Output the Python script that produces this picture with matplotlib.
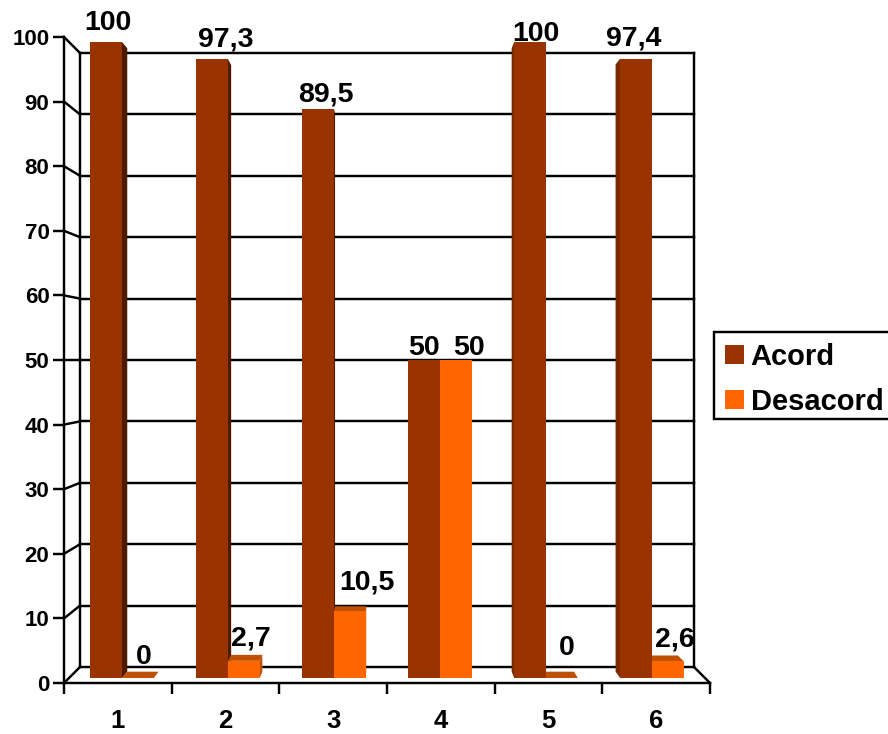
import matplotlib
matplotlib.use("Agg")
import matplotlib.pyplot as plt
from matplotlib.patches import Patch, Rectangle

plt.rcParams["font.family"] = ["Liberation Sans", "DejaVu Sans"]
plt.rcParams["font.weight"] = "bold"

categories = ["1", "2", "3", "4", "5", "6"]
acord = [100, 97.3, 89.5, 50, 100, 97.4]
desacord = [0, 2.7, 10.5, 50, 0, 2.6]

# Label nudges from the bar's top centre, in pixels
acord_nudge = [(2, 12), (14, 13), (8, 7), (0, 5), (6, 1), (-2, 13)]
desacord_nudge = [(6, 14), (7, 15), (17, 22), (13, 5), (5, 23), (7, 15)]

ACORD = "#993300"
ACORD_RIGHT = "#4D1A00"
ACORD_LEFT = "#7A2900"
DESACORD = "#FF6600"
DESACORD_SHADE = "#C05000"

LW = 1.75
DPI = 100
W, H = 888, 734

# Perspective scale of the wall and of the bars' front and rear faces
WALL = 0.952
BAR_FRONT = 0.9845
BAR_BACK = 0.965
GAP = 0.2
BAR_W = 0.3


def project(x, v, s):
    """Shrink a point towards the vanishing point at the plot's centre."""
    return 3 + (x - 3) * s, 50 + (v - 50) * s


fig = plt.figure(figsize=(W / DPI, H / DPI), dpi=DPI)
ax = fig.add_axes([64 / W, (H - 683) / H, (710 - 64) / W, (683 - 37) / H])
ax.set_xlim(0, 6)
ax.set_ylim(0, 100)
for side in ("top", "right"):
    ax.spines[side].set_visible(False)
for side in ("left", "bottom"):
    ax.spines[side].set_linewidth(LW)

ax.set_yticks(range(0, 101, 10))
ax.tick_params(axis="y", length=8, width=LW, pad=2.5, labelsize=16)
ax.set_xticks(range(7))
ax.set_xticklabels([])
ax.set_xticks([i + 0.5 for i in range(6)], categories, minor=True)
ax.tick_params(axis="x", which="major", length=8, width=LW)
ax.tick_params(axis="x", which="minor", length=0, pad=19, labelsize=18.5)


def wall_line(p, q):
    xs, ys = zip(p, q)
    ax.plot(xs, ys, color="black", lw=LW, clip_on=False, zorder=1,
            solid_capstyle="projecting")


# Back wall, gridlines and side-wall diagonals
for v in range(0, 101, 10):
    wall_line(project(0, v, WALL), project(6, v, WALL))
    wall_line((0, v), project(0, v, WALL))
wall_line(project(0, 0, WALL), project(0, 100, WALL))
wall_line(project(6, 0, WALL), project(6, 100, WALL))
wall_line((6, 0), project(6, 0, WALL))


def poly(points, color, z):
    xs, ys = zip(*points)
    ax.fill(xs, ys, color=color, lw=0, clip_on=False, zorder=z)


def draw_bar(left, right, value, face, side_r, side_l, top):
    """Draw one box: rear-facing sides first, then the top and the front."""
    a, b = left, right
    if right < 3:
        poly([project(b, 0, BAR_FRONT), project(b, value, BAR_FRONT),
              project(b, value, BAR_BACK), project(b, 0, BAR_BACK)], side_r, 2)
    if left > 3:
        poly([project(a, 0, BAR_FRONT), project(a, value, BAR_FRONT),
              project(a, value, BAR_BACK), project(a, 0, BAR_BACK)], side_l, 2)
    if value < 50:
        poly([project(a, value, BAR_FRONT), project(b, value, BAR_FRONT),
              project(b, value, BAR_BACK), project(a, value, BAR_BACK)], top, 2)
    if value > 0:
        poly([project(a, 0, BAR_FRONT), project(b, 0, BAR_FRONT),
              project(b, value, BAR_FRONT), project(a, value, BAR_FRONT)], face, 3)


def fmt(v):
    return f"{v:g}".replace(".", ",")


def label(x, value, nudge):
    dx, dy = nudge
    ax.annotate(fmt(value), project(x, value, BAR_FRONT),
                xytext=(dx * 72 / DPI, dy * 72 / DPI), textcoords="offset points",
                ha="center", va="baseline", fontsize=20.5, zorder=6,
                annotation_clip=False)


for i in range(len(categories)):
    l0, mid = i + GAP, i + GAP + BAR_W
    r1 = mid + BAR_W
    draw_bar(l0, mid, acord[i], ACORD, ACORD_RIGHT, ACORD_LEFT, ACORD_LEFT)
    draw_bar(mid, r1, desacord[i], DESACORD, DESACORD_SHADE, DESACORD_SHADE,
             DESACORD_SHADE)
    label((l0 + mid) / 2, acord[i], acord_nudge[i])
    label((mid + r1) / 2, desacord[i], desacord_nudge[i])

# Legend box runs off the right edge of the figure
fig.add_artist(Rectangle((714 / W, (H - 419) / H), 200 / W, 87 / H,
                         transform=fig.transFigure, facecolor="white",
                         edgecolor="black", linewidth=LW))
handles = [Patch(facecolor=ACORD, label="Acord"),
           Patch(facecolor=DESACORD, label="Desacord")]
fig.legend(handles=handles, loc="upper left",
           bbox_to_anchor=(725 / W, (H - 342.7) / H), borderaxespad=0,
           fontsize=21, frameon=False,
           handlelength=0.66, handleheight=0.66, handletextpad=0.22,
           labelspacing=0.58, borderpad=0)

fig.savefig("out.png", dpi=DPI)
